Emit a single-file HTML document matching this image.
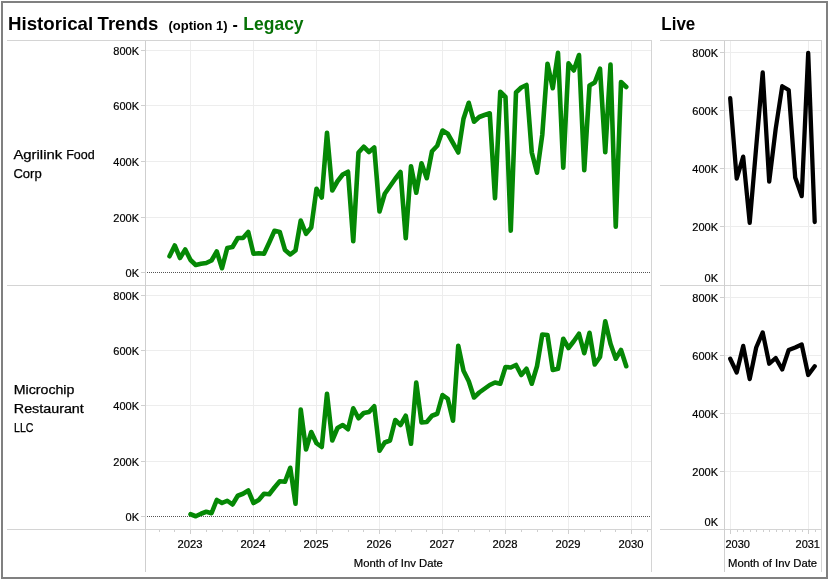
<!DOCTYPE html>
<html lang="en"><head><meta charset="utf-8"><title>Historical Trends</title>
<style>
html,body{margin:0;padding:0;background:#fff;}
body{width:828px;height:580px;overflow:hidden;font-family:"Liberation Sans",sans-serif;}
svg{display:block;}
text{font-family:"Liberation Sans",sans-serif;fill:#000;}
.t{font-size:11px;stroke:#000;stroke-width:0.2px;}
.h{font-size:12px;fill:#000;stroke:#000;stroke-width:0.25px;}
.g{stroke:#ededed;stroke-width:1;shape-rendering:crispEdges;}
.a{stroke:#cfcfcf;stroke-width:1;shape-rendering:crispEdges;}
.s{stroke:#d4d4d4;stroke-width:1;shape-rendering:crispEdges;}
.ln{fill:none;stroke-width:4.6;stroke-linejoin:round;stroke-linecap:round;}
</style></head><body>
<svg width="828" height="580" viewBox="0 0 828 580">
<rect x="0" y="0" width="828" height="580" fill="#fff"/>
<rect x="2" y="2" width="825" height="576" fill="none" stroke="#808080" stroke-width="2" shape-rendering="crispEdges"/>

<text y="29.8" font-size="19" font-weight="bold" id="t1"><tspan x="8" textLength="85.2" lengthAdjust="spacingAndGlyphs">Historical</tspan><tspan> </tspan><tspan x="97.6" textLength="60.8" lengthAdjust="spacingAndGlyphs">Trends</tspan></text>
<text x="168.5" y="29.8" font-size="13" font-weight="bold" textLength="59" lengthAdjust="spacingAndGlyphs" id="t2">(option 1)</text>
<text x="232.5" y="29.8" font-size="16" font-weight="bold" id="t3">-</text>
<text x="243.3" y="29.8" font-size="19" font-weight="bold" textLength="60.3" lengthAdjust="spacingAndGlyphs" style="fill:#067206" id="t4">Legacy</text>
<text x="661.3" y="29.8" font-size="19" font-weight="bold" textLength="34" lengthAdjust="spacingAndGlyphs" id="t5">Live</text>
<line class="g" x1="190.5" y1="41" x2="190.5" y2="529"/>
<line class="g" x1="253.5" y1="41" x2="253.5" y2="529"/>
<line class="g" x1="316.5" y1="41" x2="316.5" y2="529"/>
<line class="g" x1="379.5" y1="41" x2="379.5" y2="529"/>
<line class="g" x1="442.5" y1="41" x2="442.5" y2="529"/>
<line class="g" x1="505.5" y1="41" x2="505.5" y2="529"/>
<line class="g" x1="568.5" y1="41" x2="568.5" y2="529"/>
<line class="g" x1="631.5" y1="41" x2="631.5" y2="529"/>
<line class="g" x1="145" y1="50.5" x2="651" y2="50.5"/>
<line class="g" x1="145" y1="105.5" x2="651" y2="105.5"/>
<line class="g" x1="145" y1="161.5" x2="651" y2="161.5"/>
<line class="g" x1="145" y1="217.5" x2="651" y2="217.5"/>
<line class="g" x1="145" y1="295.5" x2="651" y2="295.5"/>
<line class="g" x1="145" y1="350.5" x2="651" y2="350.5"/>
<line class="g" x1="145" y1="405.5" x2="651" y2="405.5"/>
<line class="g" x1="145" y1="461.5" x2="651" y2="461.5"/>
<line x1="147" y1="272.5" x2="650" y2="272.5" stroke="#555" stroke-width="1" stroke-dasharray="1,1" shape-rendering="crispEdges"/>
<line x1="147" y1="516.5" x2="650" y2="516.5" stroke="#555" stroke-width="1" stroke-dasharray="1,1" shape-rendering="crispEdges"/>
<line class="s" x1="7" y1="40.5" x2="652" y2="40.5"/>
<line class="s" x1="7" y1="285.5" x2="652" y2="285.5"/>
<line class="s" x1="7" y1="529.5" x2="652" y2="529.5"/>
<line class="a" x1="145.5" y1="41" x2="145.5" y2="572"/>
<line class="s" x1="651.5" y1="41" x2="651.5" y2="572"/>
<line class="a" x1="141" y1="50.5" x2="145" y2="50.5"/>
<text class="t" x="139" y="54.5" text-anchor="end">800K</text>
<line class="a" x1="141" y1="105.5" x2="145" y2="105.5"/>
<text class="t" x="139" y="109.5" text-anchor="end">600K</text>
<line class="a" x1="141" y1="161.5" x2="145" y2="161.5"/>
<text class="t" x="139" y="165.5" text-anchor="end">400K</text>
<line class="a" x1="141" y1="217.5" x2="145" y2="217.5"/>
<text class="t" x="139" y="221.5" text-anchor="end">200K</text>
<line class="a" x1="141" y1="272.5" x2="145" y2="272.5"/>
<text class="t" x="139" y="276.5" text-anchor="end">0K</text>
<line class="a" x1="141" y1="295.5" x2="145" y2="295.5"/>
<text class="t" x="139" y="299.5" text-anchor="end">800K</text>
<line class="a" x1="141" y1="350.5" x2="145" y2="350.5"/>
<text class="t" x="139" y="354.5" text-anchor="end">600K</text>
<line class="a" x1="141" y1="405.5" x2="145" y2="405.5"/>
<text class="t" x="139" y="409.5" text-anchor="end">400K</text>
<line class="a" x1="141" y1="461.5" x2="145" y2="461.5"/>
<text class="t" x="139" y="465.5" text-anchor="end">200K</text>
<line class="a" x1="141" y1="516.5" x2="145" y2="516.5"/>
<text class="t" x="139" y="520.5" text-anchor="end">0K</text>
<line class="a" x1="159.5" y1="530" x2="159.5" y2="532"/>
<line class="a" x1="174.5" y1="530" x2="174.5" y2="532"/>
<line class="a" x1="190.5" y1="530" x2="190.5" y2="534"/>
<line class="a" x1="206.5" y1="530" x2="206.5" y2="532"/>
<line class="a" x1="222.5" y1="530" x2="222.5" y2="532"/>
<line class="a" x1="237.5" y1="530" x2="237.5" y2="532"/>
<line class="a" x1="253.5" y1="530" x2="253.5" y2="534"/>
<line class="a" x1="269.5" y1="530" x2="269.5" y2="532"/>
<line class="a" x1="285.5" y1="530" x2="285.5" y2="532"/>
<line class="a" x1="300.5" y1="530" x2="300.5" y2="532"/>
<line class="a" x1="316.5" y1="530" x2="316.5" y2="534"/>
<line class="a" x1="332.5" y1="530" x2="332.5" y2="532"/>
<line class="a" x1="348.5" y1="530" x2="348.5" y2="532"/>
<line class="a" x1="363.5" y1="530" x2="363.5" y2="532"/>
<line class="a" x1="379.5" y1="530" x2="379.5" y2="534"/>
<line class="a" x1="395.5" y1="530" x2="395.5" y2="532"/>
<line class="a" x1="411.5" y1="530" x2="411.5" y2="532"/>
<line class="a" x1="426.5" y1="530" x2="426.5" y2="532"/>
<line class="a" x1="442.5" y1="530" x2="442.5" y2="534"/>
<line class="a" x1="458.5" y1="530" x2="458.5" y2="532"/>
<line class="a" x1="474.5" y1="530" x2="474.5" y2="532"/>
<line class="a" x1="489.5" y1="530" x2="489.5" y2="532"/>
<line class="a" x1="505.5" y1="530" x2="505.5" y2="534"/>
<line class="a" x1="521.5" y1="530" x2="521.5" y2="532"/>
<line class="a" x1="537.5" y1="530" x2="537.5" y2="532"/>
<line class="a" x1="552.5" y1="530" x2="552.5" y2="532"/>
<line class="a" x1="568.5" y1="530" x2="568.5" y2="534"/>
<line class="a" x1="584.5" y1="530" x2="584.5" y2="532"/>
<line class="a" x1="600.5" y1="530" x2="600.5" y2="532"/>
<line class="a" x1="615.5" y1="530" x2="615.5" y2="532"/>
<line class="a" x1="631.5" y1="530" x2="631.5" y2="534"/>
<line class="a" x1="647.5" y1="530" x2="647.5" y2="532"/>
<text class="t" x="177.6" y="548" textLength="25" lengthAdjust="spacingAndGlyphs">2023</text>
<text class="t" x="240.6" y="548" textLength="25" lengthAdjust="spacingAndGlyphs">2024</text>
<text class="t" x="303.6" y="548" textLength="25" lengthAdjust="spacingAndGlyphs">2025</text>
<text class="t" x="366.6" y="548" textLength="25" lengthAdjust="spacingAndGlyphs">2026</text>
<text class="t" x="429.6" y="548" textLength="25" lengthAdjust="spacingAndGlyphs">2027</text>
<text class="t" x="492.6" y="548" textLength="25" lengthAdjust="spacingAndGlyphs">2028</text>
<text class="t" x="555.6" y="548" textLength="25" lengthAdjust="spacingAndGlyphs">2029</text>
<text class="t" x="618.6" y="548" textLength="25" lengthAdjust="spacingAndGlyphs">2030</text>
<text class="t" x="353.8" y="567" textLength="89.1" lengthAdjust="spacingAndGlyphs" id="ax1">Month of Inv Date</text>
<text class="h" y="158.8" id="h1"><tspan x="13.4" textLength="48.8" lengthAdjust="spacingAndGlyphs">Agrilink</tspan><tspan> </tspan><tspan x="66.2" textLength="28.5" lengthAdjust="spacingAndGlyphs">Food</tspan></text>
<text class="h" x="13.4" y="177.7" textLength="28.3" lengthAdjust="spacingAndGlyphs">Corp</text>
<text class="h" x="13.8" y="393.8" textLength="60.6" lengthAdjust="spacingAndGlyphs">Microchip</text>
<text class="h" x="13.8" y="412.7" textLength="70" lengthAdjust="spacingAndGlyphs">Restaurant</text>
<text class="h" x="14" y="431.5" textLength="19.5" lengthAdjust="spacingAndGlyphs">LLC</text>
<polyline class="ln" stroke="#058805" points="169.50,256.25 174.75,245.50 180.00,258.00 185.25,249.50 190.50,260.00 195.75,265.00 201.00,263.75 206.25,263.00 211.50,260.50 216.75,251.50 222.00,268.25 227.25,248.00 232.50,247.00 237.75,238.00 243.00,238.00 248.25,232.00 253.50,253.75 258.75,253.25 264.00,253.75 269.25,242.50 274.50,230.75 279.75,232.00 285.00,250.00 290.25,254.50 295.50,250.50 300.75,220.50 306.00,233.75 311.25,227.50 316.50,188.75 321.75,197.50 327.00,132.75 332.25,190.50 337.50,181.25 342.75,174.50 348.00,171.75 353.25,241.25 358.50,152.50 363.75,146.75 369.00,152.00 374.25,147.50 379.50,211.50 384.75,193.75 390.00,186.25 395.25,178.75 400.50,172.00 405.75,238.25 411.00,166.25 416.25,192.75 421.50,163.25 426.75,178.25 432.00,151.25 437.25,145.75 442.50,130.50 447.75,133.75 453.00,143.00 458.25,152.50 463.50,118.75 468.75,102.75 474.00,121.75 479.25,117.00 484.50,115.00 489.75,113.25 495.00,198.25 500.25,91.75 505.50,97.00 510.75,230.75 516.00,92.50 521.25,87.50 526.50,85.00 531.75,152.50 537.00,172.75 542.25,135.00 547.50,63.75 552.75,88.25 558.00,52.75 563.25,167.75 568.50,63.25 573.75,70.50 579.00,55.00 584.25,170.25 589.50,85.50 594.75,82.50 600.00,68.75 605.25,152.25 610.50,64.50 615.75,226.75 621.00,82.00 626.25,87.00"/>
<polyline class="ln" stroke="#058805" points="190.50,514.25 195.75,516.25 201.00,513.75 206.25,511.75 211.50,513.25 216.75,500.00 222.00,503.00 227.25,500.75 232.50,504.50 237.75,495.75 243.00,493.75 248.25,490.50 253.50,503.00 258.75,500.00 264.00,493.75 269.25,494.25 274.50,487.50 279.75,481.25 285.00,481.75 290.25,467.75 295.50,503.75 300.75,409.50 306.00,449.50 311.25,432.00 316.50,443.25 321.75,447.00 327.00,393.75 332.25,440.50 337.50,428.00 342.75,425.00 348.00,429.25 353.25,408.25 358.50,418.25 363.75,413.00 369.00,412.00 374.25,406.25 379.50,450.75 384.75,442.50 390.00,440.50 395.25,420.00 400.50,425.00 405.75,415.75 411.00,443.75 416.25,382.50 421.50,422.50 426.75,422.00 432.00,415.75 437.25,413.75 442.50,395.00 447.75,398.75 453.00,420.75 458.25,345.75 463.50,370.75 468.75,381.25 474.00,397.50 479.25,392.50 484.50,388.75 489.75,385.00 495.00,382.50 500.25,383.75 505.50,367.00 510.75,367.50 516.00,365.00 521.25,375.00 526.50,368.75 531.75,383.75 537.00,366.25 542.25,334.50 547.50,335.00 552.75,370.00 558.00,368.75 563.25,338.75 568.50,348.00 573.75,341.25 579.00,333.75 584.25,353.25 589.50,332.75 594.75,364.50 600.00,357.00 605.25,321.25 610.50,343.75 615.75,358.75 621.00,350.00 626.25,366.25"/>
<line class="g" x1="730.5" y1="41" x2="730.5" y2="529"/>
<line class="g" x1="808.5" y1="41" x2="808.5" y2="529"/>
<line class="g" x1="724" y1="52.5" x2="821" y2="52.5"/>
<line class="g" x1="724" y1="110.5" x2="821" y2="110.5"/>
<line class="g" x1="724" y1="168.5" x2="821" y2="168.5"/>
<line class="g" x1="724" y1="226.5" x2="821" y2="226.5"/>
<line class="g" x1="724" y1="297.5" x2="821" y2="297.5"/>
<line class="g" x1="724" y1="355.5" x2="821" y2="355.5"/>
<line class="g" x1="724" y1="413.5" x2="821" y2="413.5"/>
<line class="g" x1="724" y1="471.5" x2="821" y2="471.5"/>
<line class="s" x1="660" y1="40.5" x2="822" y2="40.5"/>
<line class="s" x1="660" y1="285.5" x2="822" y2="285.5"/>
<line class="s" x1="660" y1="529.5" x2="822" y2="529.5"/>
<line class="a" x1="724.5" y1="41" x2="724.5" y2="572"/>
<line class="s" x1="821.5" y1="41" x2="821.5" y2="572"/>
<line class="a" x1="720" y1="52.5" x2="724" y2="52.5"/>
<text class="t" x="718" y="56.5" text-anchor="end">800K</text>
<line class="a" x1="720" y1="110.5" x2="724" y2="110.5"/>
<text class="t" x="718" y="114.5" text-anchor="end">600K</text>
<line class="a" x1="720" y1="168.5" x2="724" y2="168.5"/>
<text class="t" x="718" y="172.5" text-anchor="end">400K</text>
<line class="a" x1="720" y1="226.5" x2="724" y2="226.5"/>
<text class="t" x="718" y="230.5" text-anchor="end">200K</text>
<text class="t" x="718" y="282" text-anchor="end">0K</text>
<line class="a" x1="720" y1="297.5" x2="724" y2="297.5"/>
<text class="t" x="718" y="301.5" text-anchor="end">800K</text>
<line class="a" x1="720" y1="355.5" x2="724" y2="355.5"/>
<text class="t" x="718" y="359.5" text-anchor="end">600K</text>
<line class="a" x1="720" y1="413.5" x2="724" y2="413.5"/>
<text class="t" x="718" y="417.5" text-anchor="end">400K</text>
<line class="a" x1="720" y1="471.5" x2="724" y2="471.5"/>
<text class="t" x="718" y="475.5" text-anchor="end">200K</text>
<text class="t" x="718" y="526" text-anchor="end">0K</text>
<line class="a" x1="730.5" y1="530" x2="730.5" y2="534"/>
<line class="a" x1="737.5" y1="530" x2="737.5" y2="532"/>
<line class="a" x1="743.5" y1="530" x2="743.5" y2="532"/>
<line class="a" x1="750.5" y1="530" x2="750.5" y2="532"/>
<line class="a" x1="756.5" y1="530" x2="756.5" y2="532"/>
<line class="a" x1="763.5" y1="530" x2="763.5" y2="532"/>
<line class="a" x1="769.5" y1="530" x2="769.5" y2="532"/>
<line class="a" x1="776.5" y1="530" x2="776.5" y2="532"/>
<line class="a" x1="782.5" y1="530" x2="782.5" y2="532"/>
<line class="a" x1="789.5" y1="530" x2="789.5" y2="532"/>
<line class="a" x1="795.5" y1="530" x2="795.5" y2="532"/>
<line class="a" x1="802.5" y1="530" x2="802.5" y2="532"/>
<line class="a" x1="808.5" y1="530" x2="808.5" y2="534"/>
<line class="a" x1="815.5" y1="530" x2="815.5" y2="532"/>
<text class="t" x="725.5" y="548">2030</text>
<text class="t" x="820" y="548" text-anchor="end">2031</text>
<text class="t" x="728" y="567" textLength="89.1" lengthAdjust="spacingAndGlyphs" id="ax2">Month of Inv Date</text>
<polyline class="ln" style="stroke-width:4.3" stroke="#000" points="730.20,98.25 736.70,178.65 743.20,156.65 749.70,222.90 756.20,147.00 762.70,72.40 769.20,181.65 775.70,128.75 782.20,86.25 788.70,90.00 795.20,177.50 801.70,196.15 808.20,52.90 814.70,222.00"/>
<polyline class="ln" style="stroke-width:4.3" stroke="#000" points="730.20,358.75 736.70,372.50 743.20,345.90 749.70,379.15 756.20,347.50 762.70,332.40 769.20,363.75 775.70,358.00 782.20,369.50 788.70,350.00 795.20,347.50 801.70,344.50 808.20,375.00 814.70,366.25"/>
</svg></body></html>
